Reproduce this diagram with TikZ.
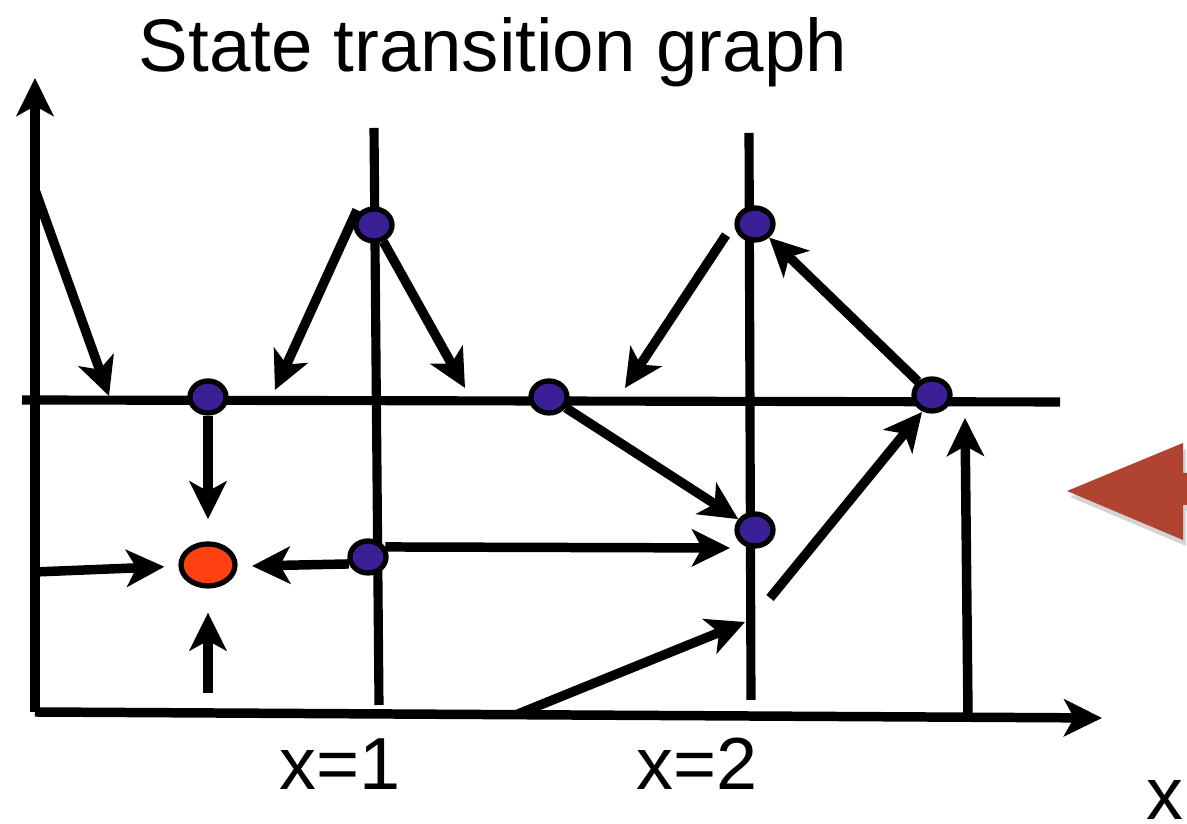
\documentclass[tikz,border=0pt]{standalone}
\usepackage{fontspec}
\setmainfont{Liberation Sans}
\usetikzlibrary{arrows.meta,shapes.geometric,shadows}
\definecolor{dotblue}{RGB}{58,31,150}
\definecolor{dotred}{RGB}{255,64,16}
\definecolor{brick}{RGB}{176,68,48}
\tikzset{
  ln/.style={line width=2.6pt},
  ar/.style={line width=2.7pt,-{Stealth[length=0.38cm,width=0.37cm,inset=0.1cm]}},
  st/.style={ellipse,draw,line width=1.5pt,fill=dotblue,minimum width=0.36cm,minimum height=0.32cm,inner sep=0pt},
  sink/.style={st,fill=dotred,minimum width=0.54cm,minimum height=0.42cm},
  lab/.style={anchor=base,font=\fontsize{21}{25}\selectfont}
}

\begin{document}
\begin{tikzpicture}
\useasboundingbox (0,0) rectangle (11.87,8.24);
\node[anchor=base,font=\fontsize{21.2}{25}\selectfont] (title) at (4.93,7.52) {State transition graph};

% axes and grid lines
\coordinate (o) at (0.35,1.12);
\coordinate (ytop) at (0.35,7.46);
\coordinate (xend) at (11.02,1.06);
\coordinate (hl) at (0.22,4.24);
\coordinate (hr) at (10.60,4.22);
\coordinate (v1t) at (3.74,6.96);
\coordinate (v1b) at (3.79,1.19);
\coordinate (v2t) at (7.49,6.91);
\coordinate (v2b) at (7.51,1.24);
\draw[ln] (hl) -- (hr);
\draw[ln] (v1t) -- (v1b);
\draw[ln] (v2t) -- (v2b);
\draw[ar] (o) -- (ytop);
\draw[ar] (o) -- (xend);

\foreach \n/\x/\y in {a/2.08/4.27,b/3.74/5.99,c/5.49/4.27,d/7.55/6.00,e/7.55/2.94,f/9.32/4.29,g/3.68/2.67}
  \node[st] (\n) at (\x,\y) {};
\node[sink] (r) at (2.08,2.59) {};

\coordinate (s1) at (0.35,6.34);  \coordinate (t1) at (1.09,4.28);
\coordinate (s2) at (3.57,6.14);  \coordinate (t2) at (2.75,4.34);
\coordinate (t3) at (4.65,4.36);
\coordinate (s4) at (7.26,5.89);  \coordinate (t4) at (6.25,4.36);
\coordinate (s7) at (7.70,2.26);  \coordinate (t7) at (9.22,4.12);
\coordinate (s8) at (5.18,1.10);  \coordinate (t8) at (7.45,2.02);
\coordinate (t9) at (7.30,2.76);
\coordinate (t10) at (2.52,2.58);
\coordinate (s12) at (0.35,2.52);
\coordinate (s13) at (2.08,1.31);
\coordinate (s14) at (9.68,1.08);  \coordinate (t14) at (9.65,4.06);

\draw[ar] (s1) -- (t1);
\draw[ar] (s2) -- (t2);
\draw[ar] (b) -- (t3);
\draw[ar] (s4) -- (t4);
\draw[ar] (f) -- (d);
\draw[ar] (c) -- (e);
\draw[ar] (s7) -- (t7);
\draw[ar] (s8) -- (t8);
\draw[ar] (g.30) -- (t9);
\draw[ar] (g.200) -- (t10);
\draw[ar,shorten >=0.22cm] (a) -- (r);
\draw[ar,shorten >=0.14cm] (s12) -- (r);
\draw[ar,shorten >=0.24cm] (s13) -- (r);
\draw[ar] (s14) -- (t14);

% block arrow at the right edge
\fill[brick,drop shadow={opacity=0.35,shadow xshift=0.03cm,shadow yshift=-0.06cm}]
  (10.67,3.33) -- (11.83,3.81) -- (11.83,3.51) -- (11.92,3.51) -- (11.92,3.19) -- (11.83,3.19) -- (11.83,2.84) -- cycle;

\node[lab] (x1) at (3.40,0.34) {x=1};
\node[lab] (x2) at (6.97,0.34) {x=2};
\node[lab] (xl) at (11.65,0.04) {x};
\end{tikzpicture}
\end{document}
